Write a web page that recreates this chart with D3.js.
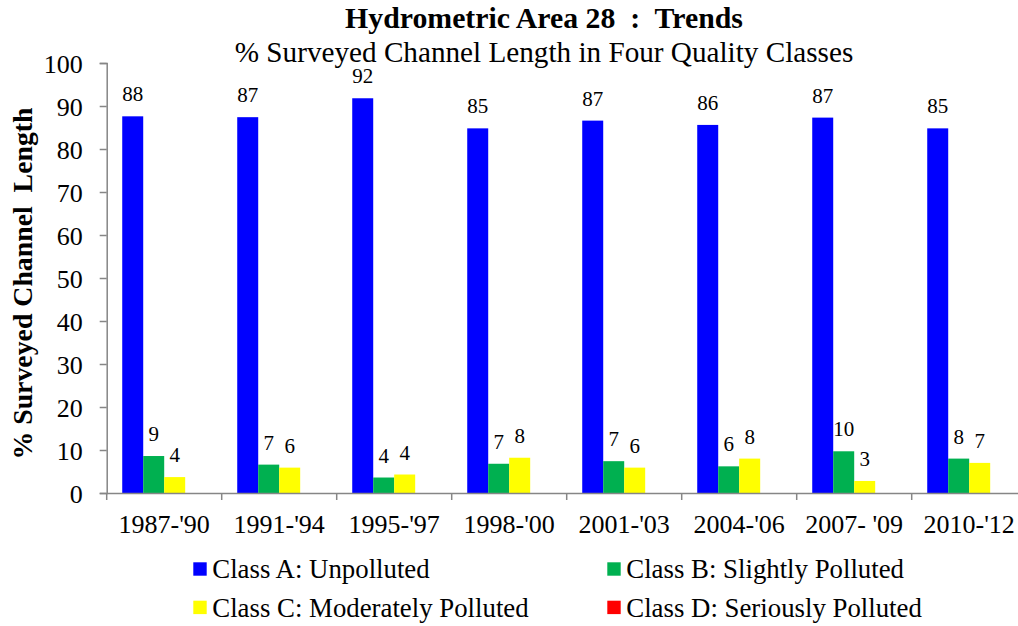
<!DOCTYPE html>
<html>
<head>
<meta charset="utf-8">
<script src="https://cdn.jsdelivr.net/npm/d3@7"></script>
<style>
  html, body { margin: 0; padding: 0; background: #fff; }
  svg { display: block; font-family: "Liberation Serif", "Times New Roman", serif; }
</style>
</head>
<body>
<svg id="chart" width="1018" height="626"></svg>
<script>
const periods = ["1987-'90", "1991-'94", "1995-'97", "1998-'00", "2001-'03", "2004-'06", "2007- '09", "2010-'12"];
const classNames = ["Class A: Unpolluted", "Class B: Slightly Polluted", "Class C: Moderately Polluted", "Class D: Seriously Polluted"];
const classColors = ["#0000FF", "#00B050", "#FFFF00", "#FF0000"];
const classA = [87.6, 87.4, 91.8, 84.8, 86.6, 85.6, 87.3, 84.8];
const classB = [8.6, 6.6, 3.6, 6.8, 7.4, 6.2, 9.7, 8.0];
const classC = [3.7, 5.9, 4.3, 8.2, 5.9, 8.0, 2.8, 7.0];
const classD = [0, 0, 0, 0, 0, 0, 0, 0];
const yTicks = [0, 10, 20, 30, 40, 50, 60, 70, 80, 90, 100];
const titleText = "Hydrometric Area 28  :  Trends";
const subtitleText = "% Surveyed Channel Length in Four Quality Classes";
const yAxisTitle = "% Surveyed Channel  Length";

const series = [classA, classB, classC, classD];
const svg = d3.select("#chart");

const x0 = d3.scaleBand().domain(periods).range([106.7, 1026.7]).paddingInner(0).paddingOuter(0);
const x1 = d3.scaleBand().domain(d3.range(series.length)).range([0, x0.bandwidth()]).paddingInner(0).paddingOuter(0.74);
const y = d3.scaleLinear().domain([0, 100]).range([493, 63]);

const axisColor = "#868686";
const serif = "Liberation Serif, Times New Roman, serif";

// Y axis
const yAxis = svg.append("g").attr("transform", "translate(106.7,0)")
  .call(d3.axisLeft(y).tickValues(yTicks).tickSize(7).tickPadding(17).tickFormat(d3.format("d")));
yAxis.attr("font-family", serif);
yAxis.select(".domain").attr("stroke", axisColor).attr("stroke-width", 1.5);
yAxis.selectAll(".tick line").attr("stroke", axisColor).attr("stroke-width", 1.5);
yAxis.selectAll(".tick text").attr("font-size", 26).attr("fill", "#000").attr("dy", "0.36em");

// Bars
const groups = svg.append("g").selectAll("g").data(periods).join("g")
  .attr("transform", d => `translate(${x0(d)},0)`);

groups.selectAll("rect").data((p, i) => series.map((s, k) => ({k, v: s[i]})))
  .join("rect")
  .attr("x", d => x1(d.k))
  .attr("width", x1.bandwidth())
  .attr("y", d => y(d.v))
  .attr("height", d => y(0) - y(d.v))
  .attr("fill", d => classColors[d.k]);

groups.selectAll("text").data((p, i) => series.map((s, k) => ({k, v: s[i]})).filter(d => d.v > 0))
  .join("text")
  .attr("x", d => x1(d.k) + x1.bandwidth() / 2)
  .attr("y", d => y(d.v) - 15)
  .attr("text-anchor", "middle")
  .attr("font-size", 21)
  .attr("fill", "#000")
  .text(d => Math.round(d.v));

// X axis
const xAxis = svg.append("g").attr("transform", "translate(0,493)")
  .call(d3.axisBottom(x0).tickSize(0).tickPadding(0));
xAxis.select(".domain").attr("stroke", axisColor).attr("stroke-width", 1.5);
xAxis.selectAll(".tick text").remove();
// category separators
svg.append("g").selectAll("line").data(periods.concat(["end"]))
  .join("line")
  .attr("x1", (d, i) => i < periods.length ? x0(d) : x0.range()[1])
  .attr("x2", (d, i) => i < periods.length ? x0(d) : x0.range()[1])
  .attr("y1", 493).attr("y2", 500)
  .attr("stroke", axisColor).attr("stroke-width", 1.5);
svg.append("g").selectAll("text").data(periods).join("text")
  .attr("x", d => x0(d) + x0.bandwidth() / 2)
  .attr("y", 533)
  .attr("text-anchor", "middle")
  .attr("font-size", 26)
  .attr("fill", "#000")
  .text(d => d);

// Titles
svg.append("text").attr("x", 544).attr("y", 28).attr("text-anchor", "middle")
  .attr("font-size", 29.8).attr("font-weight", "bold").attr("fill", "#000")
  .style("white-space", "pre").attr("xml:space", "preserve").text(titleText);
svg.append("text").attr("x", 544).attr("y", 62).attr("text-anchor", "middle")
  .attr("font-size", 29.2).attr("fill", "#000").text(subtitleText);

// Y axis title
svg.append("text").attr("transform", "translate(32,283.5) rotate(-90)")
  .attr("text-anchor", "middle").attr("font-size", 27.8).attr("font-weight", "bold")
  .attr("fill", "#000").style("white-space", "pre").attr("xml:space", "preserve").text(yAxisTitle);

// Legend
const legendPos = [[193.3, 578.3], [607.3, 578.3], [193.3, 616.7], [607.3, 616.7]];
const legend = svg.append("g").selectAll("g").data(classNames).join("g")
  .attr("transform", (d, i) => `translate(${legendPos[i][0]},${legendPos[i][1]})`);
legend.append("rect").attr("x", 0).attr("y", -16).attr("width", 13.4).attr("height", 13.4)
  .attr("fill", (d, i) => classColors[i]);
legend.append("text").attr("x", 19).attr("y", 0).attr("font-size", 26.8).attr("fill", "#000").text(d => d);
</script>
</body>
</html>
